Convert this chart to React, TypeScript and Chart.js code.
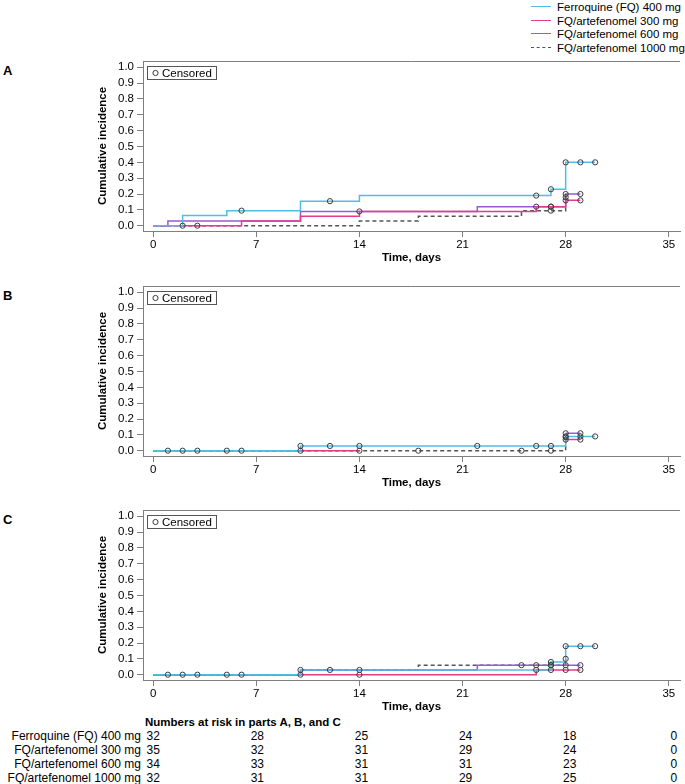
import React, { useEffect, useRef } from 'react';
import { Chart, registerables } from 'chart.js';
Chart.register(...registerables);

const FONT = '"Liberation Sans", Arial, Helvetica, sans-serif';
const AXIS = '#7f7f7f';

const seriesNames = ['Ferroquine (FQ) 400 mg', 'FQ/artefenomel 300 mg', 'FQ/artefenomel 600 mg', 'FQ/artefenomel 1000 mg'];
const seriesColors = ['#52BCE6', '#E63A8E', '#9C58D6', '#555555'];
const xTicks = [0, 7, 14, 21, 28, 35];
const yTicks = [0, 0.1, 0.2, 0.3, 0.4, 0.5, 0.6, 0.7, 0.8, 0.9, 1.0];
const riskTimes = [0, 7, 14, 21, 28, 35];
const riskFq400 = [32, 28, 25, 24, 18, 0];
const risk300 = [35, 32, 31, 29, 24, 0];
const risk600 = [34, 33, 31, 31, 23, 0];
const risk1000 = [32, 31, 31, 29, 25, 0];

// Panel A
const aFqT = [0, 2, 5, 10, 14, 27, 28, 30];
const aFqV = [0, 0.065, 0.095, 0.155, 0.19, 0.23, 0.40, 0.40];
const aFqCT = [6, 12, 26, 27, 28, 29, 30];
const aFqCV = [0.095, 0.155, 0.19, 0.23, 0.40, 0.40, 0.40];
const a300T = [0, 6, 10, 14, 26, 28, 29];
const a300V = [0, 0.03, 0.06, 0.09, 0.12, 0.16, 0.16];
const a300CT = [2, 3, 27, 28, 29];
const a300CV = [0, 0, 0.12, 0.16, 0.16];
const a600T = [0, 1, 10, 22, 28, 29];
const a600V = [0, 0.03, 0.09, 0.12, 0.20, 0.20];
const a600CT = [14, 26, 27, 28, 29];
const a600CV = [0.09, 0.12, 0.12, 0.20, 0.20];
const a1000T = [0, 14, 18, 25, 28];
const a1000V = [0, 0.03, 0.06, 0.095, 0.18];
const a1000CT = [27, 28];
const a1000CV = [0.095, 0.18];

// Panel B
const bFqT = [0, 10, 28, 30];
const bFqV = [0, 0.03, 0.09, 0.09];
const bFqCT = [1, 2, 3, 5, 6, 10, 12, 14, 22, 26, 27, 28, 29, 30];
const bFqCV = [0, 0, 0, 0, 0, 0.03, 0.03, 0.03, 0.03, 0.03, 0.03, 0.09, 0.09, 0.09];
const b300T = [0, 14, 28, 28, 29];
const b300V = [0, 0, null, 0.07, 0.07];
const b300CT = [10, 14, 28, 29];
const b300CV = [0, 0, 0.07, 0.07];
const b600T = [28, 29];
const b600V = [0.11, 0.11];
const b600CT = [28, 29];
const b600CV = [0.11, 0.11];
const b1000T = [0, 28];
const b1000V = [0, 0.085];
const b1000CT = [18, 25, 27, 28];
const b1000CV = [0, 0, 0, 0.085];

// Panel C
const cFqT = [0, 10, 27, 28, 30];
const cFqV = [0, 0.03, 0.08, 0.18, 0.18];
const cFqCT = [1, 2, 3, 5, 6, 10, 12, 14, 27, 28, 29, 30];
const cFqCV = [0, 0, 0, 0, 0, 0.03, 0.03, 0.03, 0.08, 0.18, 0.18, 0.18];
const c300T = [0, 26, 29];
const c300V = [0, 0.03, 0.03];
const c300CT = [10, 14, 26, 27, 28, 29];
const c300CV = [0, 0, 0.03, 0.03, 0.03, 0.03];
const c600T = [0, 10, 22, 29];
const c600V = [0, 0.03, 0.06, 0.06];
const c600CT = [26, 27, 28, 29];
const c600CV = [0.06, 0.06, 0.06, 0.06];
const c1000T = [0, 10, 18, 28];
const c1000V = [0, 0.03, 0.06, 0.10];
const c1000CT = [25, 27, 28];
const c1000CV = [0.06, 0.06, 0.10];

const X_MIN = -0.69;
const X_MAX = 35.76;
const Y_MIN = -0.0335;
const Y_MAX = 1.0398;

type Pts = { x: number; y: number | null }[];
const zip = (t: number[], v: (number | null)[]): Pts => t.map((x, i) => ({ x, y: v[i] }));

const stepLine = (t: number[], v: (number | null)[], color: string, dash: number[] = []) => ({
  type: 'line',
  data: zip(t, v),
  borderColor: color,
  backgroundColor: color,
  borderWidth: 1.5,
  borderDash: dash,
  stepped: 'before',
  pointRadius: 0,
  fill: false,
  spanGaps: false,
});

const censLine = (t: number[], v: number[]) => ({
  type: 'line',
  data: zip(t, v),
  showLine: false,
  pointRadius: 2.6,
  pointStyle: 'circle',
  pointBorderColor: '#3a3a3a',
  pointBackgroundColor: 'rgba(255,255,255,0)',
  pointBorderWidth: 1,
  borderColor: '#3a3a3a',
});

const framePlugin = {
  id: 'frameTop',
  afterDraw(chart: any) {
    const { ctx, chartArea } = chart;
    ctx.save();
    ctx.strokeStyle = AXIS;
    ctx.lineWidth = 1;
    ctx.beginPath();
    ctx.moveTo(chartArea.left, Math.round(chartArea.top) + 0.5);
    ctx.lineTo(chartArea.right, Math.round(chartArea.top) + 0.5);
    ctx.stroke();
    ctx.restore();
  },
};

const censorLegendPlugin = {
  id: 'censorLegend',
  afterDraw(chart: any) {
    const { ctx, chartArea } = chart;
    const x = Math.round(chartArea.left) + 4.5;
    const y = Math.round(chartArea.top) + 5.5;
    ctx.save();
    ctx.strokeStyle = '#555';
    ctx.lineWidth = 1;
    ctx.strokeRect(x, y, 69, 13);
    ctx.beginPath();
    ctx.arc(x + 8, y + 6.5, 2.6, 0, Math.PI * 2);
    ctx.strokeStyle = '#3a3a3a';
    ctx.stroke();
    ctx.fillStyle = '#000';
    ctx.font = `11.5px ${FONT}`;
    ctx.textBaseline = 'middle';
    ctx.textAlign = 'left';
    ctx.fillText('Censored', x + 14.5, y + 7);
    ctx.restore();
  },
};

function makeConfig(datasets: any[]) {
  const font = { family: FONT, size: 11.5 };
  const bold = { family: FONT, size: 11.5, weight: 'bold' as const };
  return {
    type: 'line',
    data: { datasets },
    options: {
      animation: false,
      responsive: false,
      maintainAspectRatio: false,
      devicePixelRatio: 1,
      layout: { padding: { top: 6, left: 0, right: 0, bottom: 0 } },
      plugins: { legend: { display: false }, tooltip: { enabled: false }, title: { display: false } },
      scales: {
        x: {
          type: 'linear',
          min: X_MIN,
          max: X_MAX,
          afterBuildTicks: (s: any) => {
            s.ticks = xTicks.map((v) => ({ value: v }));
          },
          afterFit: (s: any) => {
            s.height = 34;
            s.paddingLeft = 0;
            s.paddingRight = 0;
            s.paddingTop = 0;
            s.paddingBottom = 0;
          },
          grid: { display: true, drawOnChartArea: false, drawTicks: true, tickLength: 6, color: AXIS, lineWidth: 1 },
          border: { display: true, color: AXIS, width: 1 },
          ticks: { font, color: '#000', padding: 1, maxRotation: 0, autoSkip: false, callback: (v: any) => String(v) },
          title: { display: true, text: 'Time, days', font: bold, color: '#000', padding: { top: 0, bottom: 0 } },
        },
        y: {
          type: 'linear',
          min: Y_MIN,
          max: Y_MAX,
          afterBuildTicks: (s: any) => {
            s.ticks = yTicks.map((v) => ({ value: v }));
          },
          afterFit: (s: any) => {
            s.width = 143;
            s.paddingLeft = 0;
            s.paddingRight = 0;
            s.paddingTop = 0;
            s.paddingBottom = 0;
          },
          grid: { display: true, drawOnChartArea: false, drawTicks: true, tickLength: 6, color: AXIS, lineWidth: 1 },
          border: { display: true, color: AXIS, width: 1 },
          ticks: { font, color: '#000', padding: 3, autoSkip: false, callback: (v: any) => Number(v).toFixed(1) },
          title: { display: true, text: 'Cumulative incidence', font: bold, color: '#000', padding: { top: 96, bottom: 0 } },
        },
      },
    },
    plugins: [framePlugin, censorLegendPlugin],
  };
}

const panelA = () => [
  censLine([...aFqCT, ...a300CT, ...a600CT, ...a1000CT], [...aFqCV, ...a300CV, ...a600CV, ...a1000CV]),
  stepLine(aFqT, aFqV, seriesColors[0]),
  stepLine(a300T, a300V, seriesColors[1]),
  stepLine(a600T, a600V, seriesColors[2]),
  stepLine(a1000T, a1000V, seriesColors[3], [4, 3]),
];
const panelB = () => [
  censLine([...bFqCT, ...b300CT, ...b600CT, ...b1000CT], [...bFqCV, ...b300CV, ...b600CV, ...b1000CV]),
  stepLine(bFqT, bFqV, seriesColors[0]),
  stepLine(b300T, b300V, seriesColors[1]),
  stepLine(b600T, b600V, seriesColors[2]),
  stepLine(b1000T, b1000V, seriesColors[3], [4, 3]),
];
const panelC = () => [
  censLine([...cFqCT, ...c300CT, ...c600CT, ...c1000CT], [...cFqCV, ...c300CV, ...c600CV, ...c1000CV]),
  stepLine(cFqT, cFqV, seriesColors[0]),
  stepLine(c300T, c300V, seriesColors[1]),
  stepLine(c600T, c600V, seriesColors[2]),
  stepLine(c1000T, c1000V, seriesColors[3], [4, 3]),
];

function Panel({ top, height, build }: { top: number; height: number; build: () => any[] }) {
  const ref = useRef<HTMLCanvasElement>(null);
  useEffect(() => {
    const chart = new Chart(ref.current as HTMLCanvasElement, makeConfig(build()) as any);
    return () => chart.destroy();
  }, []);
  return (
    <div style={{ position: 'absolute', left: 0, top, width: 685, height }}>
      <canvas ref={ref} width={685} height={height} style={{ display: 'block', width: 685, height }} />
    </div>
  );
}

const X0 = 153.3;
const PX_PER_DAY = 14.87;
const riskRows = [riskFq400, risk300, risk600, risk1000];

export default function App() {
  const legendRows = [6.7, 20.5, 34, 47.5];
  const tableRows = [736, 750, 764, 777.5];
  return (
    <div style={{ position: 'absolute', left: 0, top: 0, width: 685, height: 784, background: '#fff', fontFamily: FONT, color: '#000', overflow: 'hidden' }}>
      {seriesNames.map((name, i) => (
        <React.Fragment key={name}>
          <div
            style={{
              position: 'absolute',
              left: 531,
              width: 20,
              top: legendRows[i] - 0.75,
              height: 0,
              borderTop: `1.5px ${i === 3 ? 'dashed' : 'solid'} ${seriesColors[i]}`,
            }}
          />
          <div style={{ position: 'absolute', left: 557, top: legendRows[i] - 7, fontSize: 11.5, lineHeight: '14px', whiteSpace: 'nowrap' }}>{name}</div>
        </React.Fragment>
      ))}
      {['A', 'B', 'C'].map((l, i) => (
        <div key={l} style={{ position: 'absolute', left: 3, top: [63, 288, 512][i], fontSize: 13, fontWeight: 'bold', lineHeight: '15px' }}>{l}</div>
      ))}
      <Panel top={55} height={210} build={panelA} />
      <Panel top={280} height={210} build={panelB} />
      <Panel top={504} height={210} build={panelC} />
      <div style={{ position: 'absolute', left: 145, top: 715, fontSize: 11.5, fontWeight: 'bold', lineHeight: '14px', whiteSpace: 'nowrap' }}>
        Numbers at risk in parts A, B, and C
      </div>
      {riskRows.map((row, r) => (
        <React.Fragment key={r}>
          <div style={{ position: 'absolute', left: 0, width: 141, top: tableRows[r] - 7, textAlign: 'right', fontSize: 12, lineHeight: '14px', whiteSpace: 'nowrap' }}>{seriesNames[r]}</div>
          {row.map((n, c) => (
            <div key={c} style={{ position: 'absolute', left: X0 + riskTimes[c] * PX_PER_DAY - 15, width: 30, top: tableRows[r] - 7, textAlign: 'center', fontSize: 12, lineHeight: '14px' }}>{n}</div>
          ))}
        </React.Fragment>
      ))}
    </div>
  );
}
